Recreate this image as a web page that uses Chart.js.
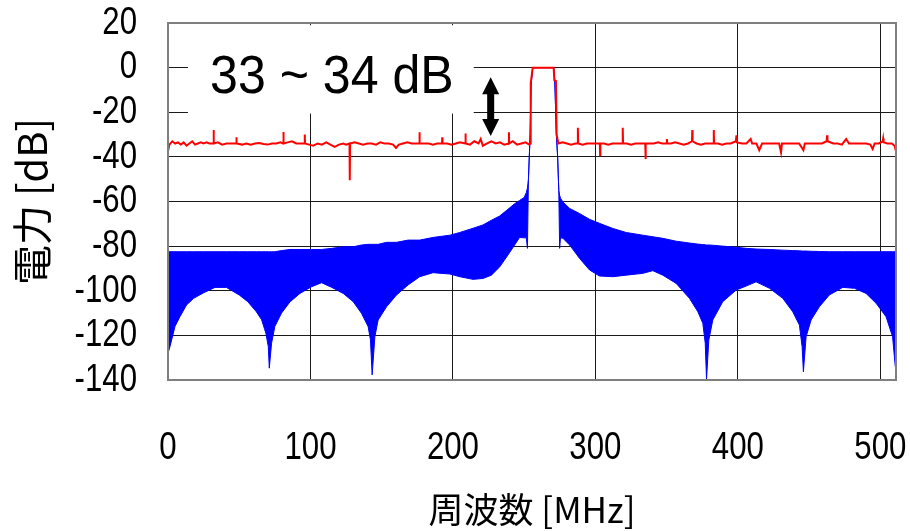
<!DOCTYPE html>
<html><head><meta charset="utf-8">
<script src="https://cdn.jsdelivr.net/npm/chart.js@4/dist/chart.umd.min.js"></script>
<style>html,body{margin:0;padding:0;background:#fff}#wrap{width:910px;height:531px}</style>
</head><body><div id="wrap"><canvas id="c" width="910" height="531"></canvas></div>
<script>
// ---- data ----
const xTickValues = [0, 100, 200, 300, 400, 500];
const yTickValues = [20, 0, -20, -40, -60, -80, -100, -120, -140];

// red: output spectrum (frequency MHz, power dB)
const redFreq = [0,1,3,5,7,9,11,13,15,17,19,21,23,25,27,29,31.8,32,32.2,35,38,41,44,47.8,48,48.2,52,55,58,61,64,67,70,73,76,79,80.8,81,81.2,84,87,90,93,95.8,96,96.2,99,102,105,108,111,114,117,120,123,125,127.4,127.6,127.8,131,134,137,140,143,146,149,152,155,158,160,162,165,168,171,174,176.3,176.5,176.7,180,183,186,189,192.3,192.5,192.7,196,199,202,205,208.6,208.8,209,212,215,218,219.5,221,224,227,230,233,236,239.1,239.3,239.5,242,245,248,251,253.5,254.3,254.6,256,270.7,271.2,272.3,272.8,274,277,280,283,286,287.5,287.7,287.9,291,294,297,300,303.1,303.3,303.5,306,309,312,315,319,319.2,319.4,322,325,328,331,335,335.2,335.4,338,341,344,347,350,350.2,350.4,353,356,359,362,365,367.8,368,368.2,371,374,377,380,382.9,383.1,383.3,386,389,392,395,398.6,399,399.4,403,406,409,410,413,415,417,420,423,426,429,430.3,431,434,437,440,443,446,447,450,453,456,459,462.3,462.6,462.9,467,470,473,476,478,481,484,487,490,493,494.6,496,499,501.7,502,502.3,505,508,510,511];
const redDb = [-37.5,-34.5,-33,-34,-33.5,-34.5,-33.5,-35,-34,-33,-34.5,-34,-33.5,-34,-33.5,-34,-34,-28,-34,-33.5,-34.5,-34,-34,-34,-31.2,-34,-34.5,-34,-34.5,-34,-33.8,-34.2,-34.5,-34,-34,-33.5,-34,-28.8,-34,-33.5,-33,-34,-34,-34,-30,-34,-34.5,-35,-34,-34.5,-33.5,-34.5,-35.5,-34.5,-34,-34.5,-34,-50.5,-34,-33.5,-34,-34.5,-34,-34,-34.5,-33.5,-34,-34,-34.5,-36,-34.5,-34,-33.5,-34,-34,-34,-29,-34,-34,-34,-34.5,-34,-34,-31.2,-34,-34,-34.5,-34,-33.5,-34,-29.5,-34,-34.5,-33,-34,-32,-35,-34,-33,-34,-33.5,-34.5,-34,-29,-34,-33,-34.5,-34,-33.5,-34.5,-34,-7,0,0,-5.7,-6,-30,-34,-33.5,-34,-34.5,-34,-34,-27,-34,-34.5,-34,-34,-34,-34,-39.3,-34,-34,-34.5,-34,-34,-34,-27,-34,-34,-34.5,-34,-34,-34,-41,-34,-34,-34,-33.5,-34,-34,-32,-34,-34,-33.5,-34,-34.5,-34,-33,-28,-33,-34,-34.5,-34,-34,-34,-28,-34,-34,-34.5,-34,-34,-33,-30.3,-33.5,-34,-34,-32,-34,-34,-37,-34,-34,-34,-34,-34,-38,-34,-34,-34,-34,-34,-37,-34,-34,-34,-34,-34,-33,-30.3,-33,-34,-34,-34.5,-32,-34,-34,-34,-34,-34,-34.5,-36.5,-34,-34,-33,-31.8,-33.5,-34,-34,-35,-37.5];

// blue: input spectrum, dense oscillation shown as upper / lower envelope
const blueFreq = [0,1.4,4.9,8.4,13,18,25,33,41,50,56,62,65.7,68.7,70.4,71.1,72.7,75,79.7,85.6,92.6,100.8,107.8,115,123,130,135.8,140.5,142.1,143.3,145.2,147.5,153.4,160.4,168.5,176.7,186,197.8,204.8,214.1,221.1,227,232.8,238.6,243.3,246.8,250,251.5,252.3,253,253.6,254.2,254.8,256,270.7,271.5,272.6,273.5,274.3,274.9,275.5,277.2,281.9,288.9,295.9,302.9,312.3,321.7,333.3,340.3,347.3,356.7,366,371.9,375.4,377.1,378,379.6,382.4,389.4,398.8,405.8,412.8,422.2,431.5,438.5,443.2,445.1,446,447.9,451.4,457.2,464.2,473.6,481.8,490,497,504,508.6,510.5];
const blueUpper = [-82.5,-82.5,-82.5,-82.5,-82.5,-82.5,-82.5,-82.5,-82.5,-82.5,-82.5,-82.5,-82.5,-82.5,-82.5,-82.5,-82.5,-82.5,-82,-81.5,-81.5,-81.5,-81.5,-81,-80.3,-80.3,-79.5,-79.2,-79.2,-79.2,-79.2,-79.2,-78.3,-78.3,-77.3,-77.3,-76.1,-75.1,-73.9,-72,-70.5,-68.4,-66.5,-63.5,-61,-59.5,-58.2,-56,-54,-50,-40,-30,-8,0,0,-6,-30,-40,-55,-57.2,-58.5,-60.2,-63.1,-65.4,-68,-69.8,-72.1,-73.9,-75.1,-75.8,-76.5,-77.8,-78.6,-79.1,-79.3,-79.4,-79.5,-79.5,-79.6,-80,-80.5,-81,-81.3,-81.5,-81.8,-82,-82.1,-82.2,-82.2,-82.2,-82.3,-82.4,-82.5,-82.5,-82.5,-82.5,-82.5,-82.5,-82.5,-82.5];
const blueLower = [-128,-125,-116,-111.6,-106.4,-103.4,-100.9,-98.5,-98.5,-101.9,-104.9,-109.4,-113,-119,-125,-134.7,-123.5,-116,-110,-105,-101.2,-98.2,-96.4,-98.5,-101.2,-104.9,-110.1,-116.1,-122,-137.7,-120.6,-113.1,-107.2,-101.9,-97.4,-93.7,-91.9,-92.5,-93.7,-94.9,-94.5,-93,-89.3,-84,-79.5,-76.1,-76.3,-76.3,-81,-50,-40,-30,-8,0,0,-6,-30,-40,-55,-81,-76.3,-76.5,-79.5,-85.5,-90.7,-93.4,-93.7,-93,-92.2,-91,-93,-96.7,-103.4,-109.4,-114.6,-123.5,-139.7,-122.1,-113.1,-104.9,-99.7,-97.9,-96,-98.9,-103.4,-109.4,-115.4,-125.1,-136.3,-120.6,-113.1,-107.2,-101.9,-98.5,-98.9,-101.2,-105.6,-111.6,-120.6,-134];

// texts
const noteText = '33 ~ 34 dB';
const xTitle = '周波数 [MHz]';
const yTitle = '電力 [dB]';

// ---- styles / layout ----
const TICK_FAMILY = '"Liberation Sans", Arial, sans-serif';
const TICK_SX = 0.8;    // the reference tick font is a narrow face
const CJK = '"Noto Sans CJK JP", "Noto Sans", sans-serif';
const NOTE_FONT = '53px Arimo, "Liberation Sans", sans-serif';
const NOTE_SX = 0.945;
const note = { boxX: [14, 214.6], boxY: [19, -20.6], textX: 29.5, textY: -11.5, arrowX: 226.5, arrowY: [-4.3, -30.7] };

const toXY = (xs, ys) => xs.map((v, i) => ({ x: v, y: ys[i] }));

// draw the axis tick labels horizontally condensed (narrow face look)
let condenseOn = false;
const condensePlugin = {
  id: 'condense',
  beforeDraw(chart) {
    const ctx = chart.ctx;
    if (!ctx._origFillText) {
      const orig = ctx.fillText;
      ctx._origFillText = orig;
      ctx.fillText = function (t, x, y, mw) {
        if (condenseOn && this.font.indexOf('Liberation Sans') >= 0) {
          this.save(); this.translate(x, y); this.scale(TICK_SX, 1);
          orig.call(this, t, 0, 0);
          this.restore();
        } else if (mw === undefined) {
          orig.call(this, t, x, y);
        } else {
          orig.call(this, t, x, y, mw);
        }
      };
    }
    condenseOn = true;
  },
  beforeDatasetsDraw() { condenseOn = false; }
};

const annotPlugin = {
  id: 'annot',
  afterDatasetsDraw(chart) {
    const { ctx, scales: { x, y }, chartArea: ca } = chart;
    ctx.save();
    const bx0 = x.getPixelForValue(note.boxX[0]), bx1 = x.getPixelForValue(note.boxX[1]);
    const by0 = y.getPixelForValue(note.boxY[0]), by1 = y.getPixelForValue(note.boxY[1]);
    ctx.fillStyle = '#fff';
    ctx.fillRect(bx0, by0, bx1 - bx0, by1 - by0);
    ctx.fillStyle = '#000';
    ctx.font = NOTE_FONT;
    ctx.textBaseline = 'alphabetic';
    ctx.textAlign = 'left';
    ctx.save();
    ctx.translate(x.getPixelForValue(note.textX), y.getPixelForValue(note.textY));
    ctx.scale(NOTE_SX, 1);
    ctx.fillText(noteText, 0, 0);
    ctx.restore();
    const ax = x.getPixelForValue(note.arrowX);
    const ay0 = y.getPixelForValue(note.arrowY[0]), ay1 = y.getPixelForValue(note.arrowY[1]);
    const hw = 8.5, hl = 17, sw = 3.5;
    ctx.beginPath();
    ctx.moveTo(ax, ay0);
    ctx.lineTo(ax + hw, ay0 + hl);
    ctx.lineTo(ax + sw, ay0 + hl);
    ctx.lineTo(ax + sw, ay1 - hl);
    ctx.lineTo(ax + hw, ay1 - hl);
    ctx.lineTo(ax, ay1);
    ctx.lineTo(ax - hw, ay1 - hl);
    ctx.lineTo(ax - sw, ay1 - hl);
    ctx.lineTo(ax - sw, ay0 + hl);
    ctx.lineTo(ax - hw, ay0 + hl);
    ctx.closePath();
    ctx.fill();
    ctx.strokeStyle = '#7f7f7f';
    ctx.lineWidth = 2;
    ctx.strokeRect(ca.left, ca.top, ca.right - ca.left, ca.bottom - ca.top);
    ctx.restore();
  }
};

new Chart(document.getElementById('c'), {
  type: 'line',
  data: {
    datasets: [
      { label: 'out', data: toXY(redFreq, redDb), borderColor: '#ff0000', borderWidth: 2, pointRadius: 0, fill: false, tension: 0 },
      { label: 'inUpper', data: toXY(blueFreq, blueUpper), borderColor: '#0000ff', borderWidth: 1, pointRadius: 0, fill: false, tension: 0 },
      { label: 'inLower', data: toXY(blueFreq, blueLower), borderColor: '#0000ff', borderWidth: 1, pointRadius: 0, fill: '-1', backgroundColor: '#0000ff', tension: 0 }
    ]
  },
  options: {
    responsive: false,
    animation: false,
    devicePixelRatio: 1,
    layout: { padding: { top: 23, right: 14, left: 0, bottom: 0 } },
    plugins: { legend: { display: false }, tooltip: { enabled: false } },
    scales: {
      x: {
        type: 'linear', min: 0, max: 511,
        afterBuildTicks: s => { s.ticks = xTickValues.map(v => ({ value: v })); },
        afterFit: s => { s.height = 151; s.paddingLeft = 0; s.paddingRight = 0; },
        ticks: { padding: 45, color: '#000', maxRotation: 0, autoSkip: false, font: { family: TICK_FAMILY, size: 39 } },
        grid: { color: '#1a1a1a', lineWidth: 1, drawTicks: false },
        border: { display: false },
        title: { display: true, text: xTitle, color: '#000', padding: 0, font: { family: CJK, size: 35 } }
      },
      y: {
        type: 'linear', min: -140, max: 20,
        afterBuildTicks: s => { s.ticks = yTickValues.map(v => ({ value: v })); },
        afterFit: s => { s.width = 168; s.paddingTop = 0; s.paddingBottom = 0; },
        ticks: { padding: 31, color: '#000', autoSkip: false, font: { family: TICK_FAMILY, size: 39 } },
        grid: { color: '#1a1a1a', lineWidth: 1, drawTicks: false },
        border: { display: false },
        title: { display: true, text: yTitle, color: '#000', padding: 8, font: { family: CJK, size: 40 } }
      }
    }
  },
  plugins: [condensePlugin, annotPlugin]
});
</script></body></html>
